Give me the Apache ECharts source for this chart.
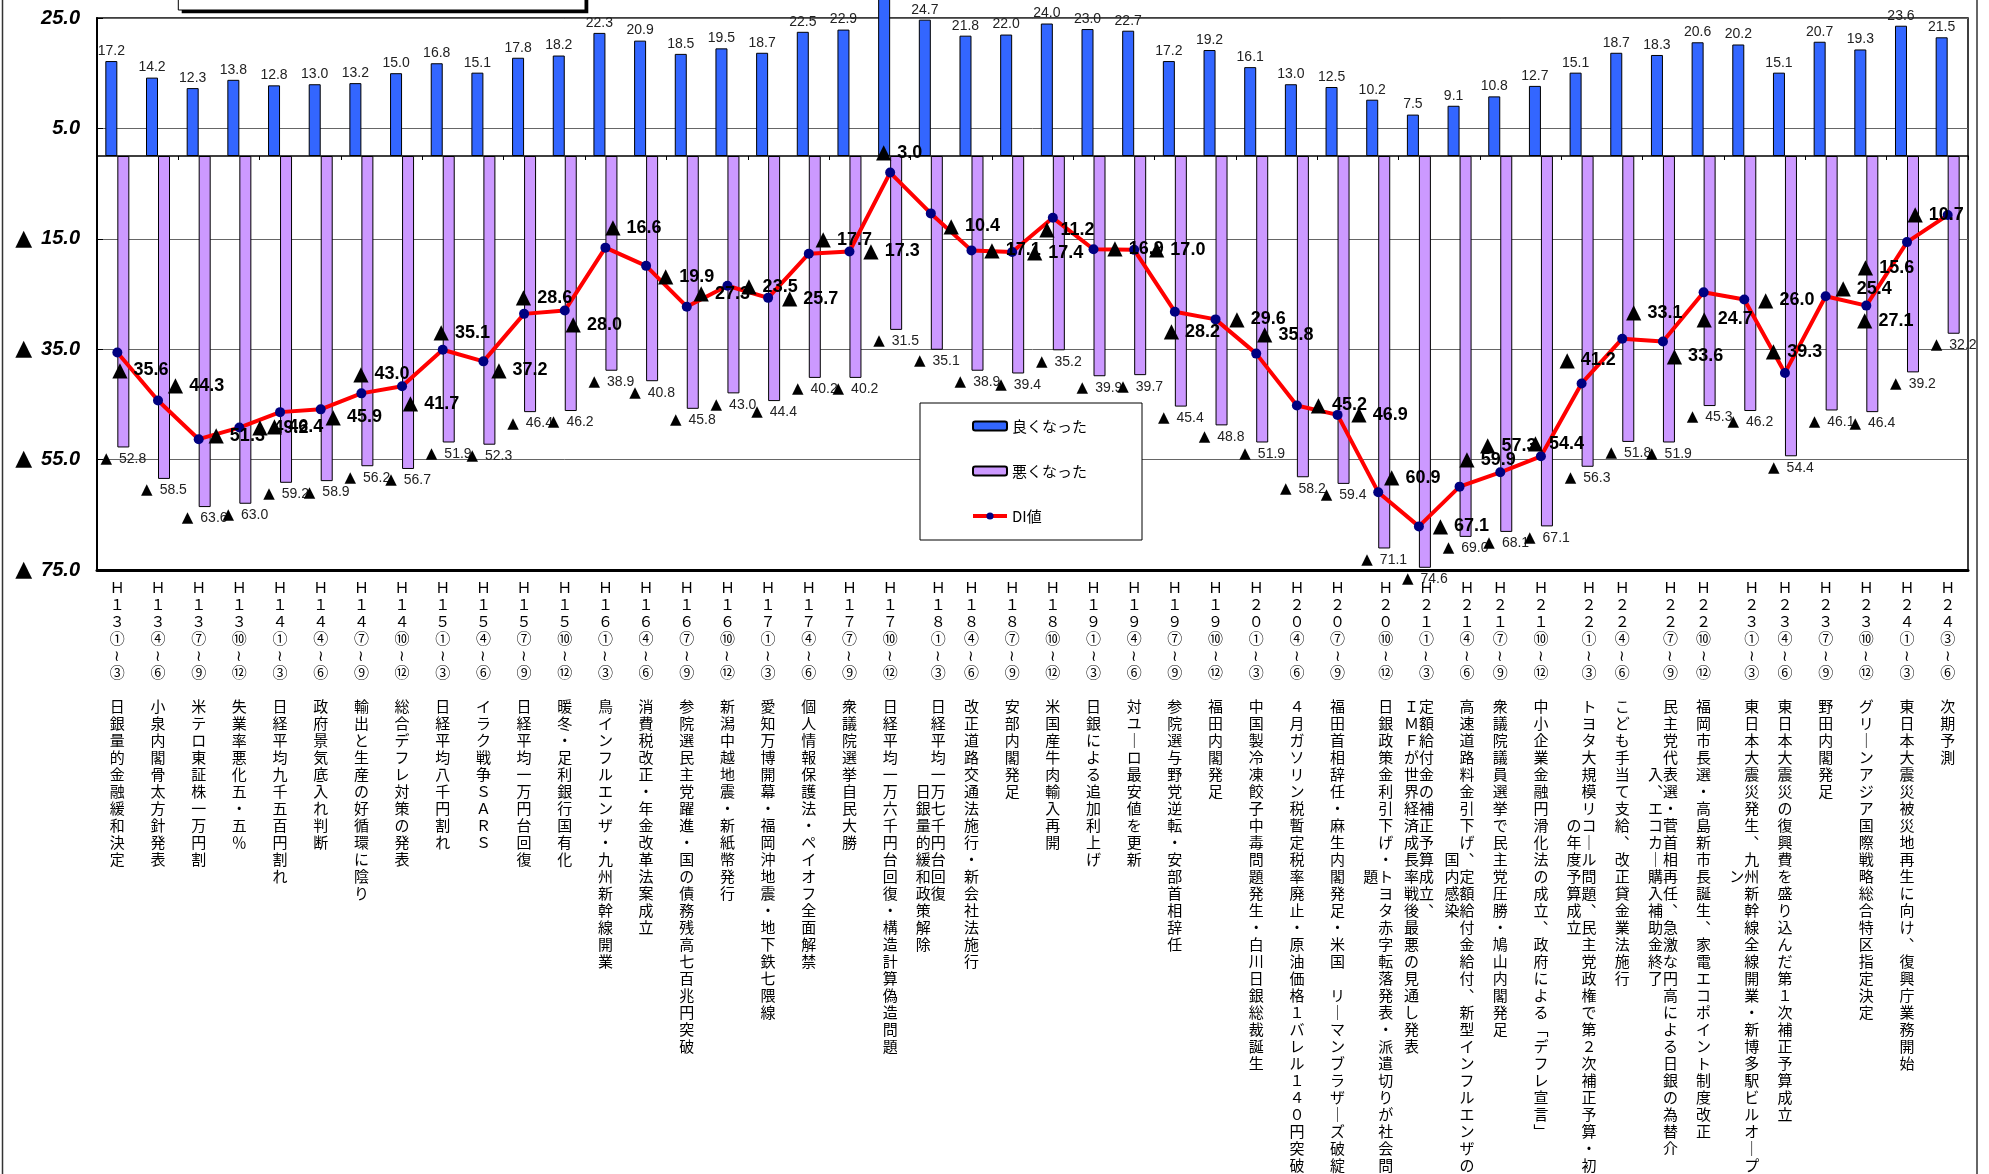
<!DOCTYPE html>
<html><head><meta charset="utf-8">
<script src="https://cdn.jsdelivr.net/npm/echarts@6/dist/echarts.min.js"></script>
<style>html,body{margin:0;padding:0;background:#fff}#c{width:1989px;height:1174px}</style>
</head><body><div id="c"></div>
<script>
// ---- data ----
const periods = ['H13①~③','H13④~⑥','H13⑦~⑨','H13⑩~⑫','H14①~③','H14④~⑥','H14⑦~⑨','H14⑩~⑫',
 'H15①~③','H15④~⑥','H15⑦~⑨','H15⑩~⑫','H16①~③','H16④~⑥','H16⑦~⑨','H16⑩~⑫',
 'H17①~③','H17④~⑥','H17⑦~⑨','H17⑩~⑫','H18①~③','H18④~⑥','H18⑦~⑨','H18⑩~⑫',
 'H19①~③','H19④~⑥','H19⑦~⑨','H19⑩~⑫','H20①~③','H20④~⑥','H20⑦~⑨','H20⑩~⑫',
 'H21①~③','H21④~⑥','H21⑦~⑨','H21⑩~⑫','H22①~③','H22④~⑥','H22⑦~⑨','H22⑩~⑫',
 'H23①~③','H23④~⑥','H23⑦~⑨','H23⑩~⑫','H24①~③','H24③~⑥'];
const events = ['日銀量的金融緩和決定','小泉内閣骨太方針発表','米テロ東証株一万円割','失業率悪化五．五％',
 '日経平均九千五百円割れ','政府景気底入れ判断','輸出と生産の好循環に陰り','総合デフレ対策の発表',
 '日経平均八千円割れ','イラク戦争ＳＡＲＳ','日経平均一万円台回復','暖冬．足利銀行国有化',
 '鳥インフルエンザ．九州新幹線開業','消費税改正．年金改革法案成立','参院選民主党躍進．国の債務残高七百兆円突破','新潟中越地震．新紙幣発行',
 '愛知万博開幕．福岡沖地震．地下鉄七隈線','個人情報保護法．ペイオフ全面解禁','衆議院選挙自民大勝','日経平均一万六千円台回復．構造計算偽造問題',
 '日経平均一万七千円台回復|日銀量的緩和政策解除','改正道路交通法施行．新会社法施行','安部内閣発足','米国産牛肉輸入再開',
 '日銀による追加利上げ','対ユーロ最安値を更新','参院選与野党逆転．安部首相辞任','福田内閣発足',
 '中国製冷凍餃子中毒問題発生．白川日銀総裁誕生','４月ガソリン税暫定税率廃止．原油価格１バレル１４０円突破','福田首相辞任．麻生内閣発足．米国 リーマンブラザーズ破綻','日銀政策金利引下げ．トヨタ赤字転落発表．派遣切りが社会問|題',
 '定額給付金の補正予算成立、|ＩＭＦが世界経済成長率戦後最悪の見通し発表','高速道路料金引下げ、定額給付金給付、新型インフルエンザの|国内感染','衆議院議員選挙で民主党圧勝．鳩山内閣発足','中小企業金融円滑化法の成立、政府による「デフレ宣言」',
 'トヨタ大規模リコール問題、民主党政権で第２次補正予算．初|の年度予算成立','こども手当て支給、改正貸金業法施行','民主党代表選．菅首相再任、急激な円高による日銀の為替介|入、エコカー購入補助金終了','福岡市長選．高島新市長誕生、家電エコポイント制度改正',
 '東日本大震災発生、九州新幹線全線開業．新博多駅ビルオープ|ン','東日本大震災の復興費を盛り込んだ第１次補正予算成立','野田内閣発足','グリーンアジア国際戦略総合特区指定決定',
 '東日本大震災被災地再生に向け、復興庁業務開始','次期予測'];
const good = [17.2,14.2,12.3,13.8,12.8,13.0,13.2,15.0,16.8,15.1,
 17.8,18.2,22.3,20.9,18.5,19.5,18.7,22.5,22.9,28.5,
 24.7,21.8,22.0,24.0,23.0,22.7,17.2,19.2,16.1,13.0,
 12.5,10.2,7.5,9.1,10.8,12.7,15.1,18.7,18.3,20.6,
 20.2,15.1,20.7,19.3,23.6,21.5];
const bad = [-52.8,-58.5,-63.6,-63.0,-59.2,-58.9,-56.2,-56.7,-51.9,-52.3,
 -46.4,-46.2,-38.9,-40.8,-45.8,-43.0,-44.4,-40.2,-40.2,-31.5,
 -35.1,-38.9,-39.4,-35.2,-39.9,-39.7,-45.4,-48.8,-51.9,-58.2,
 -59.4,-71.1,-74.6,-69.0,-68.1,-67.1,-56.3,-51.8,-51.9,-45.3,
 -46.2,-54.4,-46.1,-46.4,-39.2,-32.2];
const di = [-35.6,-44.3,-51.3,-49.2,-46.4,-45.9,-43.0,-41.7,-35.1,-37.2,
 -28.6,-28.0,-16.6,-19.9,-27.3,-23.5,-25.7,-17.7,-17.3,-3.0,
 -10.4,-17.1,-17.4,-11.2,-16.9,-17.0,-28.2,-29.6,-35.8,-45.2,
 -46.9,-60.9,-67.1,-59.9,-57.3,-54.4,-41.2,-33.1,-33.6,-24.7,
 -26.0,-39.3,-25.4,-27.1,-15.6,-10.7];
const yTicks = [-75,-55,-35,-15,5,25];

// ---- layout helpers (not data) ----
const wrapStart = {20:5, 31:10, 32:0, 33:9, 36:7, 38:4, 40:10};
const diLabelOffsets = [[23,18],[38,-15],[38,-3],[41,0],[15,15],[33,8],[20,-19],[29,18],[19,-17],[36,9],
 [20,-16],[29,14],[28,-20],[40,11],[35,-13],[42,1],[42,1],[35,-14],[42,0],[9,-20],
 [41,13],[41,0],[43,1],[14,12],[42,0],[43,0],[17,20],[42,0],[29,-19],[42,0],
 [42,0],[34,-14],[42,0],[28,-27],[8,-26],[15,-12],[6,-23],[32,-26],[32,15],[21,27],
 [42,1],[9,-21],[38,-7],[19,15],[-21,26],[-12,0]];

function vchar(c){
  const map = {'~':'≀','ー':'｜','、':'︑','「':'﹁','」':'﹂','．':'・',' ':'　'};
  if (map[c]) return map[c];
  const code = c.charCodeAt(0);
  if (code > 0x20 && code < 0x7f) return String.fromCharCode(code + 0xFEE0);
  return c;
}
function buildLabel(i){
  const parts = events[i].split('|');
  const main = [...periods[i]].map(vchar).concat(['　'], [...parts[0]].map(vchar));
  if (parts.length < 2) return main.join('\n');
  const start = [...periods[i]].length + 1 + (wrapStart[i] || 0);
  const sec = [...parts[1]].map(vchar);
  const n = Math.max(main.length, start + sec.length);
  const lines = [];
  for (let k = 0; k < n; k++) {
    const a = (k >= start && k - start < sec.length) ? sec[k - start] : '　';
    const b = k < main.length ? main[k] : '　';
    lines.push(a + b);
  }
  return lines.join('\n');
}
const catLabels = periods.map((p, i) => buildLabel(i));

const diData = di.map((v, i) => ({value: v, label: {offset: diLabelOffsets[i]}}));

const chart = echarts.init(document.getElementById('c'));
chart.setOption({
  animation: false,
  backgroundColor: '#fff',
  grid: {left: 97, right: 21, top: 18, bottom: 604, show: true, borderColor: '#000', borderWidth: 1.5, backgroundColor: 'transparent'},
  legend: {
    orient: 'vertical', left: 920, top: 403, padding: [15, 55, 16, 51], itemGap: 29,
    itemWidth: 34, itemHeight: 9, backgroundColor: '#fff', borderColor: '#000', borderWidth: 1,
    textStyle: {fontFamily: 'Noto Sans CJK JP', fontSize: 15, color: '#000', lineHeight: 16},
    data: ['良くなった', '悪くなった', {name: 'DI値', lineStyle: {width: 4, color: '#FF0000'}, itemStyle: {color: '#000080'}}]
  },
  xAxis: [
    {type: 'category', data: periods, position: 'bottom',
     axisLine: {onZero: false, lineStyle: {color: '#000', width: 3}},
     axisTick: {show: false},
     axisLabel: {interval: 0, margin: 9, formatter: (v, i) => catLabels[i],
       fontFamily: 'Noto Sans CJK JP', fontSize: 15, lineHeight: 17, color: '#000', align: 'center'}},
    {type: 'category', data: periods, position: 'bottom',
     axisLine: {onZero: true, lineStyle: {color: '#000', width: 1.5}},
     axisTick: {show: true, length: 4, lineStyle: {color: '#000', width: 1}},
     axisLabel: {show: false}}
  ],
  yAxis: {
    type: 'value', min: yTicks[0], max: yTicks[yTicks.length - 1], interval: 20,
    axisLine: {show: true, lineStyle: {color: '#000', width: 2}},
    axisTick: {show: true, inside: true, length: 6, lineStyle: {color: '#000'}},
    splitLine: {show: true, lineStyle: {color: '#666', width: 1}},
    axisLabel: {
      margin: 17,
      formatter: v => v < 0 ? '{t|▲}{n|' + (-v).toFixed(1) + '}' : '{n|' + v.toFixed(1) + '}',
      rich: {
        t: {fontFamily: 'DejaVu Sans', fontSize: 22, color: '#000', padding: [0, 9, 0, 0]},
        n: {fontFamily: 'Liberation Sans', fontSize: 20, fontWeight: 'bold', fontStyle: 'italic', color: '#000'}
      }
    }
  },
  graphic: [
    {type: 'rect', shape: {x: 181.7, y: -20, width: 406.6, height: 33.3}, style: {fill: '#000'}, z: 100},
    {type: 'rect', shape: {x: 178.3, y: -20, width: 406.7, height: 30}, style: {fill: '#fff', stroke: '#000', lineWidth: 1}, z: 101},
    {type: 'line', shape: {x1: 2.5, y1: 0, x2: 2.5, y2: 1174}, style: {stroke: '#333', lineWidth: 1.5}, z: 100},
    {type: 'line', shape: {x1: 1977, y1: 0, x2: 1977, y2: 1174}, style: {stroke: '#333', lineWidth: 1.5}, z: 100}
  ],
  series: [
    {name: '良くなった', type: 'bar', data: good, barWidth: 12, barGap: '0%', clip: false,
     itemStyle: {color: '#3366FF', borderColor: '#000', borderWidth: 1},
     label: {show: true, position: 'top', distance: 3, color: '#222', fontFamily: 'Liberation Sans', fontSize: 14,
       formatter: p => p.value.toFixed(1)}},
    {name: '悪くなった', type: 'bar', data: bad, barWidth: 12, barGap: '0%',
     itemStyle: {color: '#CC99FF', borderColor: '#000', borderWidth: 1},
     label: {show: true, position: 'bottom', distance: 4,
       formatter: p => '{t|▲}{s| }{v|' + (-p.value).toFixed(1) + '}',
       rich: {
         t: {fontFamily: 'DejaVu Sans', fontSize: 15, color: '#000'},
         s: {fontSize: 14, width: 7},
         v: {fontFamily: 'Liberation Sans', fontSize: 14, color: '#222'}
       }}},
    {name: 'DI値', type: 'line', data: diData, symbol: 'circle', symbolSize: 10, z: 5,
     itemStyle: {color: '#000080'}, lineStyle: {color: '#FF0000', width: 4},
     label: {show: true, position: 'inside',
       formatter: p => '{t|▲}{v|' + (-p.value).toFixed(1) + '}',
       rich: {
         t: {fontFamily: 'DejaVu Sans', fontSize: 20, color: '#000', padding: [0, 6, 0, 0]},
         v: {fontFamily: 'Liberation Sans', fontSize: 18, fontWeight: 'bold', color: '#000'}
       }}}
  ]
});
</script>
</body></html>
